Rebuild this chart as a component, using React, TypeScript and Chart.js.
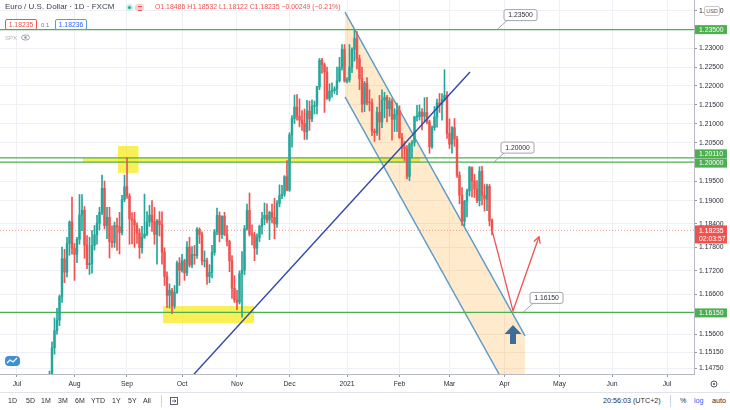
import { useEffect, useRef } from 'react';
import { Chart, registerables } from 'chart.js';

Chart.register(...registerables);

const FONT = '"Liberation Sans", Arial, sans-serif';
const UP = '#26a69a';
const DOWN = '#ef5350';
const LEVEL_GREEN = '#4caf50';
const CHANNEL_BLUE = '#5a9ac9';
const TREND_BLUE = '#2f48ad';
const GRID = '#eef0f5';
const AXIS_LINE = '#b8bbc4';
const TEXT = '#2a2e39';

// x is a bar index: 0 = Wed 1 Jul 2020, one slot per weekday
const FIRST_INDEX = 12; // first candle below is Fri 17 Jul 2020

// EUR/USD daily, 17 Jul 2020 .. 24 Mar 2021 (one row per month)
const opens = [
  1.1383, 1.1428, 1.1450, 1.1526, 1.1569, 1.1596, 1.1655, 1.1751, 1.1717, 1.1790, 1.1845,
  1.1778, 1.1762, 1.1801, 1.1863, 1.1875, 1.1786, 1.1736, 1.1739, 1.1785, 1.1812, 1.1842, 1.1870, 1.1932, 1.1836, 1.1857, 1.1795, 1.1792, 1.1836, 1.1833, 1.1818, 1.1903,
  1.1936, 1.1912, 1.1853, 1.1850, 1.1837, 1.1817, 1.1779, 1.1806, 1.1814, 1.1845, 1.1863, 1.1846, 1.1813, 1.1848, 1.1838, 1.1768, 1.1706, 1.1658, 1.1671, 1.1631, 1.1666, 1.1740,
  1.1721, 1.1746, 1.1715, 1.1781, 1.1735, 1.1762, 1.1759, 1.1826, 1.1813, 1.1745, 1.1746, 1.1706, 1.1716, 1.1767, 1.1820, 1.1862, 1.1813, 1.1860, 1.1813, 1.1795, 1.1746, 1.1676,
  1.1646, 1.1641, 1.1713, 1.1722, 1.1828, 1.1875, 1.1814, 1.1812, 1.1778, 1.1806, 1.1834, 1.1854, 1.1862, 1.1850, 1.1870, 1.1857, 1.1840, 1.1893, 1.1913, 1.1917, 1.1962,
  1.1927, 1.2071, 1.2114, 1.2144, 1.2120, 1.2110, 1.2101, 1.2079, 1.2134, 1.2113, 1.2146, 1.2149, 1.2198, 1.2268, 1.2256, 1.2237, 1.2166, 1.2186, 1.2188, 1.2192, 1.2214, 1.2249, 1.2297,
  1.2213, 1.2216, 1.2250, 1.2297, 1.2326, 1.2272, 1.2219, 1.2152, 1.2207, 1.2156, 1.2155, 1.2081, 1.2077, 1.2130, 1.2105, 1.2163, 1.2170, 1.2140, 1.2160, 1.2112, 1.2125,
  1.2136, 1.2064, 1.2040, 1.2035, 1.1963, 1.2047, 1.2051, 1.2118, 1.2119, 1.2131, 1.2120, 1.2130, 1.2105, 1.2040, 1.2090, 1.2118, 1.2155, 1.2150, 1.2165, 1.2175,
  1.2075, 1.2047, 1.2090, 1.2060, 1.1966, 1.1914, 1.1847, 1.1899, 1.1925, 1.1986, 1.1951, 1.1930, 1.1900, 1.1976, 1.1914, 1.1904, 1.1937, 1.18486,
];
const highs = [
  1.1450, 1.1468, 1.1541, 1.1601, 1.1625, 1.1659, 1.1781, 1.1775, 1.1806, 1.1848, 1.1909,
  1.1790, 1.1806, 1.1916, 1.1916, 1.1885, 1.1810, 1.1806, 1.1823, 1.1836, 1.1862, 1.1883, 1.1966, 1.1951, 1.1883, 1.1883, 1.1835, 1.1845, 1.1855, 1.1870, 1.1914, 1.1966,
  1.2011, 1.1918, 1.1869, 1.1870, 1.1843, 1.1828, 1.1834, 1.1917, 1.1872, 1.1888, 1.1900, 1.1883, 1.1852, 1.1872, 1.1871, 1.1779, 1.1718, 1.1687, 1.1676, 1.1683, 1.1745, 1.1754,
  1.1762, 1.1750, 1.1795, 1.1806, 1.1782, 1.1785, 1.1831, 1.1830, 1.1820, 1.1771, 1.1753, 1.1736, 1.1785, 1.1826, 1.1881, 1.1871, 1.1861, 1.1870, 1.1836, 1.1798, 1.1759, 1.1708,
  1.1671, 1.1720, 1.1769, 1.1836, 1.1891, 1.1920, 1.1838, 1.1819, 1.1815, 1.1837, 1.1870, 1.1894, 1.1892, 1.1873, 1.1891, 1.1906, 1.1900, 1.1941, 1.1940, 1.1965, 1.2004,
  1.2077, 1.2122, 1.2176, 1.2177, 1.2166, 1.2135, 1.2139, 1.2162, 1.2160, 1.2163, 1.2160, 1.2199, 1.2273, 1.2273, 1.2261, 1.2250, 1.2206, 1.2208, 1.2198, 1.2250, 1.2276, 1.2310, 1.2310,
  1.2222, 1.2310, 1.2301, 1.2349, 1.2345, 1.2282, 1.2250, 1.2212, 1.2222, 1.2190, 1.2166, 1.2087, 1.2144, 1.2175, 1.2190, 1.2183, 1.2175, 1.2169, 1.2166, 1.2140, 1.2155,
  1.2148, 1.2075, 1.2054, 1.2043, 1.2050, 1.2056, 1.2120, 1.2149, 1.2150, 1.2140, 1.2169, 1.2170, 1.2110, 1.2095, 1.2146, 1.2165, 1.2180, 1.2180, 1.2243, 1.2185,
  1.2113, 1.2093, 1.2114, 1.2067, 1.1975, 1.1934, 1.1901, 1.1930, 1.1989, 1.1988, 1.1968, 1.1952, 1.1988, 1.1989, 1.1942, 1.1943, 1.1942, 1.18532,
];
const lows = [
  1.1372, 1.1400, 1.1422, 1.1510, 1.1560, 1.1582, 1.1640, 1.1690, 1.1705, 1.1760, 1.1763,
  1.1696, 1.1741, 1.1788, 1.1823, 1.1752, 1.1726, 1.1711, 1.1714, 1.1773, 1.1788, 1.1825, 1.1864, 1.1827, 1.1802, 1.1753, 1.1780, 1.1780, 1.1772, 1.1763, 1.1812, 1.1897,
  1.1906, 1.1788, 1.1789, 1.1780, 1.1790, 1.1752, 1.1765, 1.1803, 1.1810, 1.1834, 1.1821, 1.1788, 1.1737, 1.1809, 1.1737, 1.1683, 1.1627, 1.1626, 1.1612, 1.1625, 1.1663, 1.1683,
  1.1717, 1.1696, 1.1708, 1.1730, 1.1728, 1.1737, 1.1752, 1.1790, 1.1735, 1.1730, 1.1686, 1.1690, 1.1702, 1.1760, 1.1812, 1.1794, 1.1803, 1.1810, 1.1784, 1.1718, 1.1650, 1.1640,
  1.1622, 1.1636, 1.1603, 1.1710, 1.1824, 1.1809, 1.1786, 1.1746, 1.1762, 1.1795, 1.1814, 1.1838, 1.1843, 1.1800, 1.1843, 1.1802, 1.1831, 1.1884, 1.1905, 1.1911, 1.1925,
  1.1924, 1.2039, 1.2101, 1.2110, 1.2092, 1.2083, 1.2059, 1.2059, 1.2083, 1.2106, 1.2126, 1.2126, 1.2190, 1.2233, 1.2130, 1.2165, 1.2160, 1.2170, 1.2180, 1.2177, 1.2210, 1.2242, 1.2210,
  1.2208, 1.2210, 1.2235, 1.2266, 1.2245, 1.2190, 1.2131, 1.2132, 1.2150, 1.2134, 1.2069, 1.2054, 1.2070, 1.2058, 1.2090, 1.2116, 1.2105, 1.2120, 1.2057, 1.2080, 1.2080,
  1.2062, 1.2011, 1.2004, 1.1956, 1.1952, 1.2011, 1.2042, 1.2107, 1.2110, 1.2084, 1.2105, 1.2100, 1.2023, 1.2036, 1.2083, 1.2091, 1.2130, 1.2110, 1.2160, 1.2062,
  1.2036, 1.2023, 1.2041, 1.1960, 1.1892, 1.1836, 1.1835, 1.1858, 1.1912, 1.1910, 1.1908, 1.1895, 1.1886, 1.1889, 1.1873, 1.1874, 1.1835, 1.18122,
];
const closes = [
  1.1428, 1.1450, 1.1526, 1.1569, 1.1596, 1.1655, 1.1751, 1.1717, 1.1790, 1.1845, 1.1778,
  1.1762, 1.1801, 1.1863, 1.1875, 1.1786, 1.1736, 1.1739, 1.1785, 1.1812, 1.1842, 1.1870, 1.1932, 1.1836, 1.1857, 1.1795, 1.1792, 1.1836, 1.1833, 1.1818, 1.1903, 1.1936,
  1.1912, 1.1853, 1.1850, 1.1837, 1.1817, 1.1779, 1.1806, 1.1814, 1.1845, 1.1863, 1.1846, 1.1813, 1.1848, 1.1838, 1.1768, 1.1706, 1.1658, 1.1671, 1.1631, 1.1666, 1.1740, 1.1721,
  1.1746, 1.1715, 1.1781, 1.1735, 1.1762, 1.1759, 1.1826, 1.1813, 1.1745, 1.1746, 1.1706, 1.1716, 1.1767, 1.1820, 1.1862, 1.1813, 1.1860, 1.1813, 1.1795, 1.1746, 1.1676, 1.1646,
  1.1641, 1.1713, 1.1722, 1.1828, 1.1875, 1.1814, 1.1812, 1.1778, 1.1806, 1.1834, 1.1854, 1.1862, 1.1850, 1.1870, 1.1857, 1.1840, 1.1893, 1.1913, 1.1917, 1.1962, 1.1927,
  1.2071, 1.2114, 1.2144, 1.2120, 1.2110, 1.2101, 1.2079, 1.2134, 1.2113, 1.2146, 1.2149, 1.2198, 1.2268, 1.2256, 1.2237, 1.2166, 1.2186, 1.2188, 1.2192, 1.2214, 1.2249, 1.2297, 1.2213,
  1.2216, 1.2250, 1.2297, 1.2326, 1.2272, 1.2219, 1.2152, 1.2207, 1.2156, 1.2155, 1.2081, 1.2077, 1.2130, 1.2105, 1.2163, 1.2170, 1.2140, 1.2160, 1.2112, 1.2125, 1.2136,
  1.2064, 1.2040, 1.2035, 1.1963, 1.2047, 1.2051, 1.2118, 1.2119, 1.2131, 1.2120, 1.2130, 1.2105, 1.2040, 1.2090, 1.2118, 1.2155, 1.2150, 1.2165, 1.2175, 1.2075,
  1.2047, 1.2090, 1.2060, 1.1966, 1.1914, 1.1847, 1.1899, 1.1925, 1.1986, 1.1951, 1.1930, 1.1900, 1.1976, 1.1914, 1.1904, 1.1937, 1.1848, 1.18235,
];

// time axis: bar index of each month's first weekday
const monthTickIndex = [0, 23, 44, 66, 88, 109, 132, 153, 173, 195, 217, 238, 260];
const monthTickLabels = ['Jul', 'Aug', 'Sep', 'Oct', 'Nov', 'Dec', '2021', 'Feb', 'Mar', 'Apr', 'May', 'Jun', 'Jul'];

// price axis (log scale) labels shown by the platform
const priceTicks = [1.24, 1.23, 1.225, 1.22, 1.215, 1.21, 1.205, 1.195, 1.19, 1.184, 1.178, 1.172, 1.166, 1.156, 1.1515, 1.1475];

const X_MIN = -6.8;
const X_MAX = 270.8;
const Y_MIN = 1.14608;
const Y_MAX = 1.24296;

const keyLevels = [1.235, 1.2011, 1.2, 1.1615];
const lastPrice = 1.18235;

// analyst drawings, in (bar index, price)
const trendLine = [{ x: 70, y: 1.1455 }, { x: 181.2, y: 1.2237 }];
const channelUpper = [{ x: 131.2, y: 1.2397 }, { x: 203.2, y: 1.1556 }];
const channelLower = [{ x: 131.2, y: 1.2171 }, { x: 203.2, y: 1.1345 }];
const forecastPath = [{ x: 190, y: 1.1824 }, { x: 198.4, y: 1.1619 }, { x: 208.8, y: 1.1807 }];
const zones = [
  { x0: 26.4, x1: 161.2, y0: 1.2, y1: 1.2011 },
  { x0: 40.4, x1: 48.6, y0: 1.1972, y1: 1.2042 },
  { x0: 58.4, x1: 94.8, y0: 1.1588, y1: 1.1631 },
];
const callouts = [
  { x: 192, y: 1.235, text: '1.23500' },
  { x: 190.8, y: 1.2, text: '1.20000' },
  { x: 202.4, y: 1.1615, text: '1.16150' },
];
const upMarker = { x: 198.4, y: 1.1558 };

const axisBadges = [
  { v: 1.235, text: '1.23500', shift: 0 },
  { v: 1.2011, text: '1.20110', shift: -4 },
  { v: 1.2, text: '1.20000', shift: 1 },
  { v: 1.1615, text: '1.16150', shift: 0.5 },
];

const overlayPlugin = {
  id: 'overlay',
  beforeDatasetsDraw(chart: any) {
    const { ctx, chartArea: a, scales } = chart;
    const x = scales.x, y = scales.y;
    ctx.save();
    ctx.beginPath();
    ctx.rect(a.left, a.top, a.right - a.left, a.bottom - a.top);
    ctx.clip();
    ctx.fillStyle = 'rgba(245, 235, 30, 0.75)';
    zones.forEach(z => {
      const x0 = x.getPixelForValue(z.x0);
      const x1 = x.getPixelForValue(z.x1);
      const y0 = y.getPixelForValue(z.y1);
      const y1 = y.getPixelForValue(z.y0);
      ctx.fillRect(x0, y0, x1 - x0, y1 - y0);
    });
    ctx.restore();
  },
  afterDatasetsDraw(chart: any) {
    const { ctx, chartArea: a, scales } = chart;
    const x = scales.x, y = scales.y;
    ctx.save();
    ctx.beginPath();
    ctx.rect(a.left, a.top, a.right - a.left, a.bottom - a.top);
    ctx.clip();

    // arrow head on the forecast path
    const p1 = forecastPath[forecastPath.length - 2];
    const p2 = forecastPath[forecastPath.length - 1];
    const x1 = x.getPixelForValue(p1.x), y1 = y.getPixelForValue(p1.y);
    const x2 = x.getPixelForValue(p2.x), y2 = y.getPixelForValue(p2.y);
    const ang = Math.atan2(y2 - y1, x2 - x1);
    ctx.strokeStyle = DOWN;
    ctx.lineWidth = 1.3;
    ctx.beginPath();
    ctx.moveTo(x2 - 7 * Math.cos(ang - 0.5), y2 - 7 * Math.sin(ang - 0.5));
    ctx.lineTo(x2, y2);
    ctx.lineTo(x2 - 7 * Math.cos(ang + 0.5), y2 - 7 * Math.sin(ang + 0.5));
    ctx.stroke();

    // up-arrow mark
    const cx = x.getPixelForValue(upMarker.x);
    const cy = y.getPixelForValue(upMarker.y);
    ctx.fillStyle = '#3f6d99';
    ctx.beginPath();
    ctx.moveTo(cx, cy - 10);
    ctx.lineTo(cx + 8.5, cy - 1);
    ctx.lineTo(cx + 3, cy - 1);
    ctx.lineTo(cx + 3, cy + 9);
    ctx.lineTo(cx - 3, cy + 9);
    ctx.lineTo(cx - 3, cy - 1);
    ctx.lineTo(cx - 8.5, cy - 1);
    ctx.closePath();
    ctx.fill();

    // price callouts
    ctx.font = `6.8px ${FONT}`;
    ctx.textBaseline = 'middle';
    ctx.textAlign = 'center';
    callouts.forEach(c => {
      const px = x.getPixelForValue(c.x);
      const py = y.getPixelForValue(c.y);
      const bx = px + 7, by = py - 20, bw = 33, bh = 11;
      ctx.strokeStyle = '#8a8e99';
      ctx.lineWidth = 0.8;
      ctx.beginPath();
      ctx.moveTo(px, py);
      ctx.lineTo(bx + 3, by + bh);
      ctx.stroke();
      ctx.beginPath();
      ctx.roundRect(bx, by, bw, bh, 2);
      ctx.fillStyle = '#ffffff';
      ctx.fill();
      ctx.stroke();
      ctx.fillStyle = TEXT;
      ctx.fillText(c.text, bx + bw / 2, by + bh / 2 + 0.5);
    });
    ctx.restore();
  },
  afterDraw(chart: any) {
    const { ctx, chartArea: a, scales } = chart;
    const y = scales.y;
    const lx = a.right + 1;
    const lw = 32;
    ctx.save();
    ctx.font = `6.8px ${FONT}`;
    ctx.textBaseline = 'middle';
    ctx.textAlign = 'left';
    axisBadges.forEach(b => {
      const cy = y.getPixelForValue(b.v) + b.shift;
      ctx.fillStyle = LEVEL_GREEN;
      ctx.fillRect(lx, cy - 4.5, lw, 9);
      ctx.fillStyle = '#ffffff';
      ctx.fillText(b.text, lx + 4, cy + 0.5);
    });
    const ly = y.getPixelForValue(lastPrice);
    ctx.fillStyle = DOWN;
    ctx.fillRect(lx, ly - 5, lw, 18);
    ctx.fillStyle = '#ffffff';
    ctx.fillText(lastPrice.toFixed(5), lx + 4, ly + 0.5);
    ctx.fillText('02:03:57', lx + 4, ly + 8.5);
    ctx.restore();
  },
};

const rangeButtons: [string, number][] = [
  ['1D', 8], ['5D', 26], ['1M', 41], ['3M', 58], ['6M', 75], ['YTD', 91], ['1Y', 112], ['5Y', 128], ['All', 143],
];

export default function App() {
  const canvasRef = useRef<HTMLCanvasElement | null>(null);

  useEffect(() => {
    const canvas = canvasRef.current;
    if (!canvas) return;

    const colors = closes.map((c, i) => (c >= opens[i] ? UP : DOWN));
    const wicks = opens.map((_, i) => ({ x: FIRST_INDEX + i, y: [lows[i], highs[i]] }));
    const bodies = opens.map((o, i) => ({ x: FIRST_INDEX + i, y: [o, closes[i]] }));

    const flatLine = (v: number) => [{ x: X_MIN, y: v }, { x: X_MAX, y: v }];
    const lineBase = { type: 'line' as const, pointRadius: 0, tension: 0, fill: false };

    const chart = new Chart(canvas, {
      type: 'bar',
      data: {
        datasets: [
          { ...lineBase, data: channelUpper, borderColor: CHANNEL_BLUE, borderWidth: 1.4, order: 10 },
          {
            ...lineBase, data: channelLower, borderColor: CHANNEL_BLUE, borderWidth: 1.4, order: 10,
            fill: '-1', backgroundColor: 'rgba(255, 167, 38, 0.24)',
          },
          ...keyLevels.map(v => ({ ...lineBase, data: flatLine(v), borderColor: LEVEL_GREEN, borderWidth: 1.4, order: 8 })),
          {
            ...lineBase, data: flatLine(lastPrice), borderColor: 'rgba(239, 83, 80, 0.7)',
            borderWidth: 0.8, borderDash: [1, 2], order: 7,
          },
          {
            data: wicks, backgroundColor: colors, barThickness: 1, grouped: false,
            borderWidth: 0, order: 5,
          },
          {
            data: bodies, backgroundColor: colors, barThickness: 1.8, grouped: false,
            borderWidth: 0, minBarLength: 1, order: 4,
          },
          { ...lineBase, data: trendLine, borderColor: TREND_BLUE, borderWidth: 1.4, order: 2 },
          { ...lineBase, data: forecastPath, borderColor: DOWN, borderWidth: 1.3, order: 1 },
        ] as any,
      },
      options: {
        responsive: false,
        animation: false,
        events: [],
        layout: { padding: 0 },
        plugins: { legend: { display: false }, tooltip: { enabled: false } },
        scales: {
          x: {
            type: 'linear',
            min: X_MIN,
            max: X_MAX,
            bounds: 'data',
            offset: false,
            grid: { color: GRID, offset: false, tickColor: '#9598a1', tickLength: 3 },
            border: { color: AXIS_LINE },
            afterBuildTicks: (s: any) => { s.ticks = monthTickIndex.map(v => ({ value: v })); },
            afterFit: (s: any) => {
              s.height = 18;
              s.paddingLeft = 0;
              s.paddingRight = 0;
            },
            ticks: {
              callback: (_v: any, i: number) => monthTickLabels[i],
              color: TEXT, font: { size: 6.8, family: FONT }, padding: 3,
              maxRotation: 0, autoSkip: false,
            },
          },
          y: {
            type: 'logarithmic',
            position: 'right',
            min: Y_MIN,
            max: Y_MAX,
            bounds: 'data',
            beginAtZero: false,
            grid: { color: GRID, tickColor: '#9598a1', tickLength: 3 },
            border: { color: AXIS_LINE },
            afterBuildTicks: (s: any) => { s.ticks = priceTicks.map(v => ({ value: v })); },
            afterFit: (s: any) => {
              s.width = 36;
              s.paddingTop = 0;
              s.paddingBottom = 0;
            },
            ticks: {
              callback: (v: any) => Number(v).toFixed(5),
              color: TEXT, font: { size: 6.8, family: FONT }, padding: 2, autoSkip: false,
            },
          },
        },
      } as any,
      plugins: [overlayPlugin],
    });

    return () => chart.destroy();
  }, []);

  const small = { position: 'absolute' as const, whiteSpace: 'nowrap' as const, lineHeight: 1 };

  return (
    <div style={{ position: 'absolute', left: 0, top: 0, width: 730, height: 410, background: '#fff', overflow: 'hidden', fontFamily: FONT, color: TEXT }}>
      <canvas ref={canvasRef} width={730} height={392} style={{ position: 'absolute', left: 0, top: 0, display: 'block' }} />

      {/* legend / header */}
      <div style={{ ...small, left: 5, top: 3, fontSize: 8, color: '#3b3f4a' }}>Euro / U.S. Dollar · 1D · FXCM</div>
      <div style={{ ...small, left: 126, top: 4, width: 7, height: 7, borderRadius: 4, background: '#c9ece6' }} />
      <div style={{ ...small, left: 128, top: 6, width: 3, height: 3, borderRadius: 2, background: UP }} />
      <div style={{ ...small, left: 135, top: 4, width: 9, height: 7, borderRadius: 3, background: '#f9cfd6' }} />
      <div style={{ ...small, left: 137.5, top: 6, width: 4, height: 3, borderTop: `1px solid ${DOWN}`, borderBottom: `1px solid ${DOWN}` }} />
      <div style={{ ...small, left: 155, top: 4, fontSize: 6.9, color: DOWN }}>
        O1.18486 H1.18532 L1.18122 C1.18235 −0.00249 (−0.21%)
      </div>
      <div style={{ ...small, left: 5, top: 19, width: 30, height: 9, border: `1px solid ${DOWN}`, borderRadius: 2, fontSize: 6.8, color: DOWN, textAlign: 'center', lineHeight: '9px', background: '#fff' }}>1.18235</div>
      <div style={{ ...small, left: 41, top: 21.5, fontSize: 6, color: '#787b86' }}>0.1</div>
      <div style={{ ...small, left: 55, top: 19, width: 30, height: 9, border: '1px solid #5b9cd6', borderRadius: 2, fontSize: 6.8, color: '#2962ff', textAlign: 'center', lineHeight: '9px', background: '#fff' }}>1.18236</div>
      <div style={{ ...small, left: 5, top: 35, fontSize: 6, color: '#b2b5be' }}>SPX</div>
      <svg style={{ position: 'absolute', left: 21, top: 34 }} width={9} height={7}>
        <ellipse cx={4.5} cy={3.5} rx={4} ry={2.6} fill="none" stroke="#9598a1" strokeWidth={0.9} />
        <circle cx={4.5} cy={3.5} r={1.3} fill="#9598a1" />
      </svg>

      {/* currency badge on price scale */}
      <div style={{ ...small, left: 704, top: 6, width: 14, height: 8, border: '1px solid #c5c8d0', borderRadius: 2, background: '#fff', fontSize: 5.5, textAlign: 'center', lineHeight: '8px', color: '#50535e' }}>USD</div>

      {/* logo bottom-left */}
      <svg style={{ position: 'absolute', left: 5, top: 355 }} width={15} height={12}>
        <rect x={0} y={1} width={15} height={10} rx={4} fill="#3d8fd9" />
        <path d="M2 8 L5 5 L8 7 L12 3" stroke="#fff" strokeWidth={1.2} fill="none" />
      </svg>

      {/* gear in scale corner */}
      <svg style={{ position: 'absolute', left: 709, top: 379 }} width={10} height={10}>
        <circle cx={5} cy={5} r={3} fill="none" stroke="#50535e" strokeWidth={1} />
        <circle cx={5} cy={5} r={1} fill="#50535e" />
      </svg>

      {/* bottom toolbar */}
      <div style={{ position: 'absolute', left: 0, top: 392, width: 730, height: 1, background: '#e0e3eb' }} />
      {rangeButtons.map(([t, left]) => (
        <div key={t} style={{ ...small, left, top: 397, fontSize: 7, color: TEXT }}>{t}</div>
      ))}
      <div style={{ position: 'absolute', left: 161, top: 395, width: 1, height: 12, background: '#d1d4dc' }} />
      <svg style={{ position: 'absolute', left: 170, top: 396 }} width={9} height={10}>
        <rect x={0.5} y={1.5} width={7} height={7} fill="none" stroke="#50535e" strokeWidth={0.9} />
        <path d="M2 5 L6 5 M4.5 3.5 L6 5 L4.5 6.5" stroke="#50535e" strokeWidth={0.9} fill="none" />
      </svg>
      <div style={{ ...small, left: 603, top: 397, fontSize: 7.2, color: TEXT }}>20:56:03 (UTC+2)</div>
      <div style={{ position: 'absolute', left: 670, top: 395, width: 1, height: 12, background: '#d1d4dc' }} />
      <div style={{ ...small, left: 680, top: 397, fontSize: 7.2, color: TEXT }}>%</div>
      <div style={{ ...small, left: 694, top: 397, fontSize: 7.2, color: '#2962ff' }}>log</div>
      <div style={{ ...small, left: 712, top: 397, fontSize: 7.2, color: TEXT }}>auto</div>
    </div>
  );
}
